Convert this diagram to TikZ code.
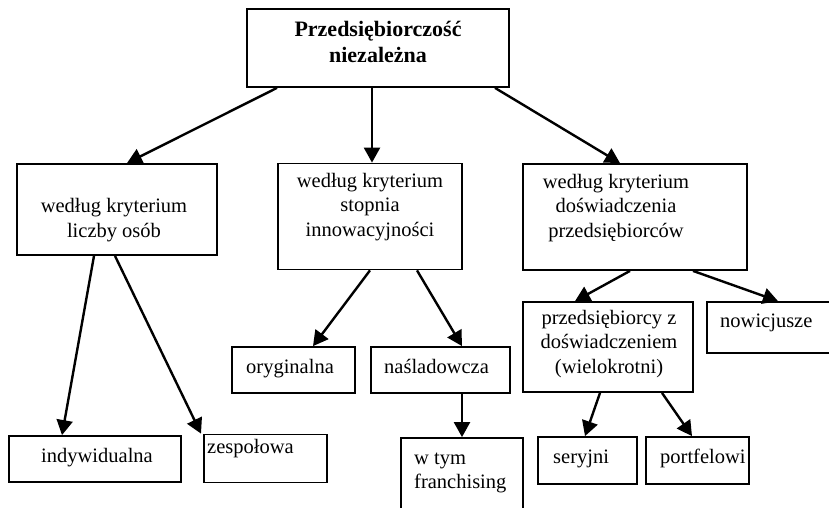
\documentclass[tikz,border=0pt]{standalone}
\usepackage{fontspec}
\setmainfont{Liberation Serif}
\usetikzlibrary{arrows.meta}
\begin{document}
\begin{tikzpicture}[x=1pt,y=-1pt,
  box/.style={draw,line width=1.8pt,inner sep=0pt,rectangle},
  txt/.style={font=\fontsize{20.5}{24.5}\selectfont,inner sep=0pt,align=center,anchor=base},
  ltxt/.style={font=\fontsize{20.5}{24}\selectfont,inner sep=0pt,align=left,anchor=base west},
  arr/.style={line width=2.4pt,-{Triangle[length=15pt,width=16pt]}}]
\useasboundingbox (0,0) rectangle (829,508);
% boxes
\node[box,minimum width=262,minimum height=78] (top) at (378,48) {};
\node[box,minimum width=200,minimum height=91] (L) at (117,209.5) {};
\node[box,minimum width=184,minimum height=106] (M) at (370,216.5) {};
\node[box,minimum width=224,minimum height=106] (R) at (635,217) {};
\node[box,minimum width=172,minimum height=46] (indy) at (95,459) {};
\node[box,minimum width=123,minimum height=48] (zesp) at (265.5,458.5) {};
\node[box,minimum width=123,minimum height=46] (oryg) at (293.5,370) {};
\node[box,minimum width=139,minimum height=46] (nasl) at (440.5,370) {};
\node[box,minimum width=122,minimum height=74] (fran) at (462,475) {};
\node[box,minimum width=170,minimum height=90] (przed) at (608,347) {};
\node[box,minimum width=125,minimum height=51] (nowi) at (769.5,327.5) {};
\node[box,minimum width=99,minimum height=47] (sery) at (587.5,460.5) {};
\node[box,minimum width=103,minimum height=47] (port) at (697.5,460.5) {};
% texts
\node[txt,font=\fontsize{22}{26}\selectfont\bfseries] (tTop) at (378,63) {Przedsiębiorczość\\niezależna};
\node[txt] (tL) at (114,237) {według kryterium\\liczby osób};
\node[txt] (tM) at (370,236) {według kryterium\\stopnia\\innowacyjności};
\node[txt] (tR) at (616,237) {według kryterium\\doświadczenia\\przedsiębiorców};
\node[txt] (tPrzed) at (609,373) {przedsiębiorcy z\\doświadczeniem\\(wielokrotni)};
\node[ltxt] (tNowi) at (720,327) {nowicjusze};
\node[ltxt] (tSery) at (553,463) {seryjni};
\node[ltxt] (tPort) at (660,463) {portfelowi};
\node[ltxt] (tFran) at (414,488) {w tym\\franchising};
\node[ltxt] (tOryg) at (246,373) {oryginalna};
\node[ltxt] (tNasl) at (384,373) {naśladowcza};
\node[ltxt] (tIndy) at (41,462) {indywidualna};
\node[ltxt] (tZesp) at (207,453) {zespołowa};
% connectors
\draw[arr] ([xshift=-101pt]top.south) -- ([xshift=10pt]L.north);
\draw[arr] ([xshift=-6pt]top.south) -- ([xshift=2pt]M.north);
\draw[arr] ([xshift=117pt]top.south) -- ([xshift=-15pt]R.north);
\draw[arr] ([xshift=-23pt]L.south) -- ([xshift=-33pt]indy.north);
\draw[arr] ([xshift=-2pt]L.south) -- ([xshift=-64.5pt]zesp.north);
\draw[arr] ([xshift=0pt]M.south) -- ([xshift=19.5pt]oryg.north);
\draw[arr] ([xshift=47pt]M.south) -- ([xshift=21.5pt]nasl.north);
\draw[arr] ([xshift=21.5pt]nasl.south) -- ([xshift=0pt]fran.north);
\draw[arr] ([xshift=-5pt]R.south) -- ([xshift=-33pt]przed.north);
\draw[arr] ([xshift=58pt]R.south) -- ([xshift=8.5pt]nowi.north);
\draw[arr] ([xshift=-8pt]przed.south) -- ([xshift=-2.5pt]sery.north);
\draw[arr] ([xshift=54pt]przed.south) -- ([xshift=-5.5pt]port.north);
\end{tikzpicture}
\end{document}
